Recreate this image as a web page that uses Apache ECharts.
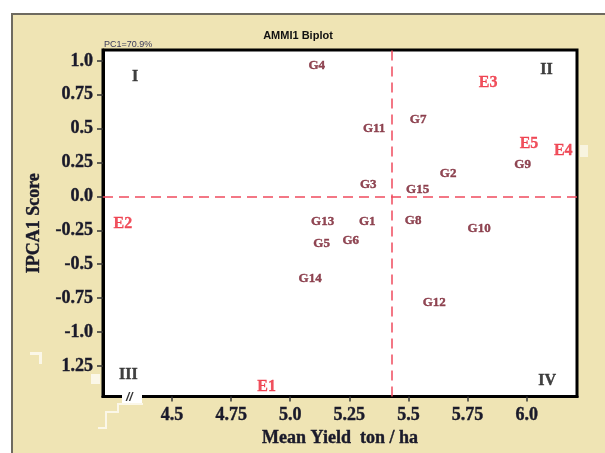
<!DOCTYPE html>
<html>
<head>
<meta charset="utf-8">
<script src="https://cdn.jsdelivr.net/npm/echarts@6/dist/echarts.min.js"></script>
<style>
html,body{margin:0;padding:0;background:#fff;}
#bg{position:absolute;left:11px;top:13px;width:594px;height:440px;background:#efe4b4;border-left:2px solid #6e6a60;border-top:2px solid #6e6a60;box-sizing:border-box;}
#chart{position:absolute;left:0;top:0;width:605px;height:453px;}
</style>
</head>
<body>
<div id="bg"></div>
<div id="chart"></div>
<script>
// Genotypes
const genoNames = ['G1','G2','G3','G4','G5','G6','G7','G8','G9','G10','G11','G12','G13','G14','G15'];
const genoYield = [5.326,5.668,5.330,5.112,5.133,5.256,5.541,5.520,5.983,5.799,5.355,5.609,5.137,5.084,5.539];
const genoIPCA  = [-0.184,0.168,0.087,0.961,-0.350,-0.326,0.568,-0.180,0.238,-0.240,0.500,-0.787,-0.184,-0.605,0.051];
// Environments
const envNames = ['E1','E2','E3','E4','E5'];
const envYield = [4.900,4.292,5.837,6.155,6.010];
const envIPCA  = [-1.406,-0.204,0.835,0.335,0.384];
// Quadrant labels
const quadNames = ['I','II','III','IV'];
const quadYield = [4.344,6.084,4.315,6.087];
const quadIPCA  = [0.881,0.937,-1.320,-1.357];
// Reference lines
const meanYield = 5.434;
const meanIPCA = 0;
// Ticks
const xTicks = [4.5,4.75,5.0,5.25,5.5,5.75,6.0];
const xTickLabels = ['4.5','4.75','5.0','5.25','5.5','5.75','6.0'];
const yTicks = [-1.25,-1.0,-0.75,-0.5,-0.25,0,0.25,0.5,0.75,1.0];
const yTickLabels = ['1.25','-1.0','-0.75','-0.5','-0.25','0.0','0.25','0.5','0.75','1.0'];

function pts(names, xs, ys){ return names.map((n,i)=>({name:n, value:[xs[i], ys[i]]})); }

const chart = echarts.init(document.getElementById('chart'), null, {renderer:'canvas'});
const serif = '"Liberation Serif","DejaVu Serif",serif';
const axisText = {fontFamily:serif, fontWeight:'bold', fontSize:18, color:'#1a1a2a', textBorderColor:'#1a1a2a', textBorderWidth:0.4};
chart.setOption({
  backgroundColor:'transparent',
  animation:false,
  title:{text:'AMMI1 Biplot', left:293, top:25, textAlign:'center',
    textStyle:{fontFamily:'"Liberation Sans",Arial,sans-serif', fontWeight:'bold', fontSize:11, color:'#111'}},
  grid:{left:103, top:50, right:28, bottom:52, show:true, backgroundColor:'#fff', borderColor:'#000', borderWidth:3},
  xAxis:{type:'value', min:4.208, max:6.213,
    name:'Mean Yield  ton / ha', nameLocation:'middle', nameGap:32,
    nameTextStyle:axisText,
    axisLine:{show:true, onZero:false, lineStyle:{color:'#000', width:3}}, splitLine:{show:false},
    axisTick:{show:true, length:5, customValues:xTicks, lineStyle:{color:'#333', width:1.5}},
    axisLabel:Object.assign({customValues:xTicks, margin:10,
      formatter:(v)=>{const i=xTicks.findIndex(t=>Math.abs(t-v)<1e-6); return i>=0?xTickLabels[i]:'';}}, axisText)
  },
  yAxis:{type:'value', min:-1.476, max:1.08,
    name:'IPCA1 Score', nameLocation:'middle', nameGap:60, nameRotate:90,
    nameTextStyle:axisText,
    axisLine:{show:true, onZero:false, lineStyle:{color:'#000', width:3}}, splitLine:{show:false},
    axisTick:{show:true, length:6, customValues:yTicks, lineStyle:{color:'#333', width:1.5}},
    axisLabel:Object.assign({customValues:yTicks, margin:10,
      formatter:(v)=>{const i=yTicks.findIndex(t=>Math.abs(t-v)<1e-6); return i>=0?yTickLabels[i]:'';}}, axisText)
  },
  graphic:[
    {type:'text', left:104, top:40, z:1, style:{text:'PC1=70.9%', font:'9px "Liberation Sans",Arial,sans-serif', fill:'#3a3a5a'}},
    {type:'rect', shape:{x:122,y:394,width:20,height:9}, style:{fill:'#fff'}, z:10},
    {type:'text', left:126, top:392, z:11, style:{text:'//', font:'italic bold 12px "Liberation Sans",sans-serif', fill:'#333'}},
    {type:'polyline', shape:{points:[[143,404],[118,404],[118,412],[106,412],[106,428],[98,428]]}, style:{stroke:'#fbf7e8', lineWidth:2, fill:null}, z:5},
    {type:'rect', shape:{x:30,y:352,width:12,height:3}, style:{fill:'#fbf7e8'}, z:5},
    {type:'rect', shape:{x:39,y:352,width:3,height:12}, style:{fill:'#fbf7e8'}, z:5},
    {type:'rect', shape:{x:91,y:374,width:9,height:10}, style:{fill:'#fbf7e8'}, z:5},
    {type:'rect', shape:{x:580,y:145,width:8,height:12}, style:{fill:'#f8f4e0'}, z:5}
  ],
  series:[
    {type:'scatter', name:'Genotypes', data:pts(genoNames,genoYield,genoIPCA), symbolSize:1,
      itemStyle:{color:'transparent'}, silent:true,
      label:{show:true, position:'inside', formatter:'{b}', fontFamily:serif, fontWeight:'bold', fontSize:13, color:'#761a2a', textBorderColor:'#761a2a', textBorderWidth:0.4},
      markLine:{silent:true, symbol:['none','none'], label:{show:false},
        lineStyle:{color:'#ef4b5e', type:[10,6], width:1.5},
        data:[{xAxis:meanYield},{yAxis:meanIPCA}]}
    },
    {type:'scatter', name:'Environments', data:pts(envNames,envYield,envIPCA), symbolSize:1,
      itemStyle:{color:'transparent'}, silent:true,
      label:{show:true, position:'inside', formatter:'{b}', fontFamily:serif, fontWeight:'bold', fontSize:16, color:'#ec2434', textBorderColor:'#ec2434', textBorderWidth:0.3}
    },
    {type:'scatter', name:'Quadrants', data:pts(quadNames,quadYield,quadIPCA), symbolSize:1,
      itemStyle:{color:'transparent'}, silent:true,
      label:{show:true, position:'inside', formatter:'{b}', fontFamily:serif, fontWeight:'bold', fontSize:16, color:'#111', textBorderColor:'#111', textBorderWidth:0.4}
    }
  ]
});
</script>
</body>
</html>
